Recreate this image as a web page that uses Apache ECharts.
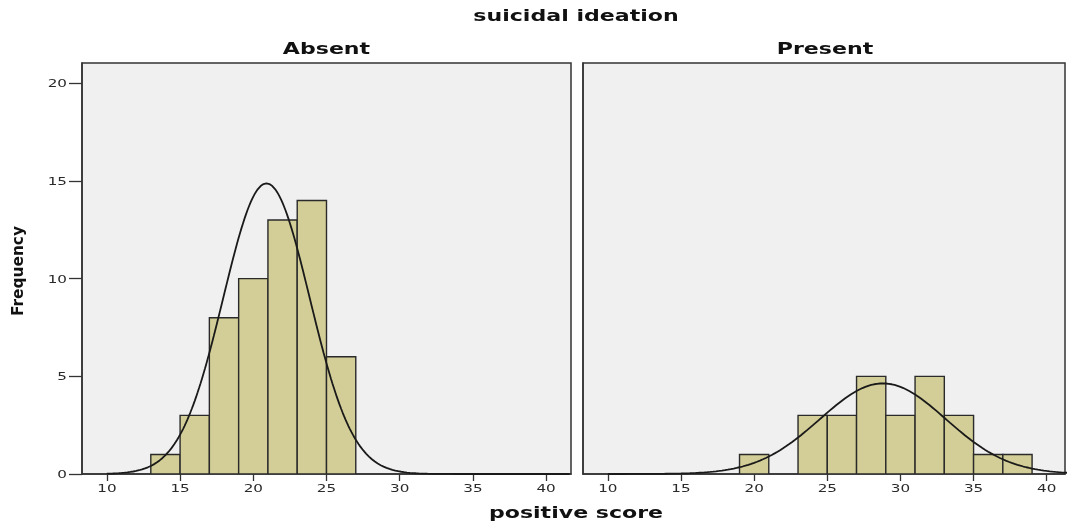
<!DOCTYPE html>
<html><head><meta charset="utf-8">
<script src="https://cdn.jsdelivr.net/npm/echarts@6/dist/echarts.min.js"></script>
<style>html,body{margin:0;padding:0;background:#fff}#c{width:1067px;height:524px}</style>
</head><body><div id="c"></div>
<script>
// Histogram bins (lower edge) and frequencies
const absentBinStarts = [13, 15, 17, 19, 21, 23, 25];
const absentCounts    = [1, 3, 8, 10, 13, 14, 6];
const presentBinStarts = [19, 21, 23, 25, 27, 29, 31, 33, 35, 37];
const presentCounts    = [1, 0, 3, 3, 5, 3, 5, 3, 1, 1];
const binWidth = 2;
// fitted normal curve parameters
const absentMean = 20.9, absentSD = 2.95;
const presentMean = 28.8, presentSD = 4.3;
const xTicks = [10, 15, 20, 25, 30, 35, 40];
const yTicks = [0, 5, 10, 15, 20];
const panelNames = ['Absent', 'Present'];

function bars(starts, counts) {
  return starts.map((s, i) => [s, s + binWidth, counts[i]]).filter(d => d[2] > 0);
}
function curve(counts, mean, sd) {
  const n = counts.reduce((a, b) => a + b, 0);
  const pts = [];
  for (let x = 10; x <= 41.7; x += 0.1) {
    const z = (x - mean) / sd;
    pts.push([x, n * binWidth / (sd * Math.sqrt(2 * Math.PI)) * Math.exp(-0.5 * z * z)]);
  }
  return pts;
}
const chart = echarts.init(document.getElementById('c'));
function renderBar(params, api) {
  const p0 = api.coord([api.value(0), api.value(2)]);
  const p1 = api.coord([api.value(1), 0]);
  return {
    type: 'rect',
    shape: {x: p0[0], y: p0[1], width: p1[0] - p0[0], height: p1[1] - p0[1]},
    style: {fill: '#d3ce97', stroke: '#2a2a2a', lineWidth: 1.4}
  };
}
const xAxisBase = (idx, max) => ({
  type: 'value', gridIndex: idx, min: 8.3, max: max,
  axisLine: {show: true, lineStyle: {color: '#333', width: 1.5}},
  axisTick: {show: true, length: 7, customValues: xTicks, lineStyle: {color: '#333', width: 1.3}},
  axisLabel: {show: false},
  splitLine: {show: false}
});
const yAxisBase = (idx, showTicks) => ({
  type: 'value', gridIndex: idx, min: 0, max: 21.04,
  axisLine: {show: true, lineStyle: {color: '#333', width: 1.5}},
  axisTick: {show: showTicks, length: 13, customValues: yTicks, lineStyle: {color: '#333', width: 1.3}},
  axisLabel: {show: false},
  splitLine: {show: false}
});
function wideText(text, x, y, size, color, align, bold) {
  return {
    type: 'text', x: x, y: y, scaleX: 1.38,
    style: {text: text, fill: color, font: (bold ? 'bold ' : '') + size + 'px "DejaVu Sans"', align: align, verticalAlign: 'middle'}
  };
}
chart.setOption({
  animation: false,
  grid: [
    {left: 82, top: 63, width: 489, height: 411, show: true, backgroundColor: '#f0f0f0', borderColor: '#333', borderWidth: 1.5},
    {left: 583, top: 63, width: 482, height: 411, show: true, backgroundColor: '#f0f0f0', borderColor: '#333', borderWidth: 1.5}
  ],
  xAxis: [xAxisBase(0, 41.7), xAxisBase(1, 41.25)],
  yAxis: [yAxisBase(0, true), yAxisBase(1, false)],
  series: [
    {type: 'custom', xAxisIndex: 0, yAxisIndex: 0, renderItem: renderBar, data: bars(absentBinStarts, absentCounts), clip: true},
    {type: 'custom', xAxisIndex: 1, yAxisIndex: 1, renderItem: renderBar, data: bars(presentBinStarts, presentCounts), clip: true},
    {type: 'line', xAxisIndex: 0, yAxisIndex: 0, data: curve(absentCounts, absentMean, absentSD), showSymbol: false,
     lineStyle: {color: '#1a1a1a', width: 1.8}, clip: true, z: 5},
    {type: 'line', xAxisIndex: 1, yAxisIndex: 1, data: curve(presentCounts, presentMean, presentSD), showSymbol: false,
     lineStyle: {color: '#1a1a1a', width: 1.8}, clip: true, z: 5}
  ]
});
// Text drawn as graphics (horizontally widened like the reference), positioned from the library's scales
const g = [];
g.push(wideText('suicidal ideation', 576, 17, 16, '#111', 'center', true));
[0, 1].forEach(i => {
  const xl = chart.convertToPixel({xAxisIndex: i}, 8.3);
  const xr = chart.convertToPixel({xAxisIndex: i}, i === 0 ? 41.7 : 41.25);
  g.push(wideText(panelNames[i], (xl + xr) / 2 + (i === 1 ? 1 : 0), 49.5, 16, '#111', 'center', true));
  const yBase = chart.convertToPixel({yAxisIndex: i}, 0);
  xTicks.forEach(v => {
    g.push(wideText(String(v), chart.convertToPixel({xAxisIndex: i}, v), yBase + 15, 11, '#2a2a2a', 'center', false));
  });
});
const xLeft = chart.convertToPixel({xAxisIndex: 0}, 8.3);
yTicks.forEach(v => {
  g.push(wideText(String(v), xLeft - 15, chart.convertToPixel({yAxisIndex: 0}, v) + 1, 11, '#2a2a2a', 'right', false));
});
g.push(wideText('positive score', 576, 514, 16, '#111', 'center', true));
g.push({
  type: 'text', x: 19, y: 271, rotation: Math.PI / 2, scaleX: 1.07,
  style: {text: 'Frequency', fill: '#111', font: 'bold 16px "DejaVu Sans Condensed", "Liberation Sans Narrow", "DejaVu Sans"',
    align: 'center', verticalAlign: 'middle'}
});
chart.setOption({graphic: g});
</script></body></html>
